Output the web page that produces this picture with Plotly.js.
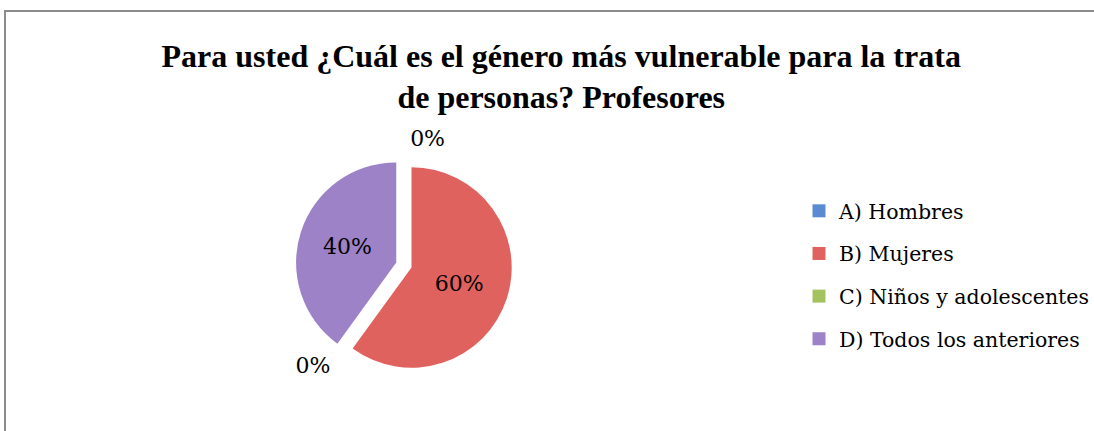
<!DOCTYPE html>
<html><head><meta charset="utf-8">
<script src="https://cdn.plot.ly/plotly-3.0.1.min.js"></script>
<style>
html,body{margin:0;padding:0;background:#fff;overflow:hidden;}
#frame{position:absolute;left:4px;top:10px;width:1100px;height:430px;border:2px solid #8c8c8c;box-sizing:border-box;}
#chart{position:absolute;left:0;top:0;width:1094px;height:431px;}
</style></head>
<body>
<div id="frame"></div>
<div id="chart"></div>
<script>
const categories = ["A) Hombres", "B) Mujeres", "C) Niños y adolescentes", "D) Todos los anteriores"];
const shares = [0, 60, 0, 40];
const sliceColors = ["#5a8bd0", "#e0625e", "#a4c35e", "#9d82c8"];
const titleText = "Para usted ¿Cuál es el género más vulnerable para la trata<br>de personas? Profesores";

const pie = {
  type: "pie",
  labels: categories,
  values: shares,
  sort: false,
  direction: "clockwise",
  rotation: 0,
  marker: {colors: sliceColors, line: {color: "#ffffff", width: 0}},
  pull: [0.14, 0.08, 0.14, 0.08],
  textinfo: "percent",
  texttemplate: "%{percent:.0%}",
  textposition: ["outside", "inside", "outside", "inside"],
  insidetextfont: {family: "DejaVu Serif", size: 22, color: "#000"},
  outsidetextfont: {family: "DejaVu Serif", size: 22, color: "#000"},
  domain: {x: [0.25, 0.5], y: [0.12, 0.65]},
  showlegend: false,
  hoverinfo: "label+percent"
};

// legend entries, one per category, so the gap between entries can be set
const legendTraces = categories.map((c, i) => ({
  type: "scatter", mode: "markers",
  x: [null], y: [null],
  name: c,
  legendgroup: "g" + i,
  marker: {symbol: "square", size: 13, color: sliceColors[i]},
  showlegend: true,
  hoverinfo: "skip"
}));

const layout = {
  width: 1094, height: 431,
  paper_bgcolor: "rgba(0,0,0,0)",
  plot_bgcolor: "rgba(0,0,0,0)",
  margin: {l: 0, r: 0, t: 0, b: 0},
  xaxis: {visible: false},
  yaxis: {visible: false},
  title: {
    text: "<b>" + titleText + "</b>",
    font: {family: "Liberation Serif", size: 32, color: "#000"},
    x: 0.513, xanchor: "center", y: 0.845, yanchor: "middle"
  },
  legend: {
    x: 0.742, y: 0.362, xanchor: "left", yanchor: "middle",
    font: {family: "DejaVu Serif", size: 20.5, color: "#000"},
    itemwidth: 30,
    tracegroupgap: 13,
    traceorder: "grouped"
  },
  showlegend: true
};

Plotly.newPlot("chart", [pie].concat(legendTraces), layout, {displayModeBar: false, staticPlot: true});
</script>
</body></html>
